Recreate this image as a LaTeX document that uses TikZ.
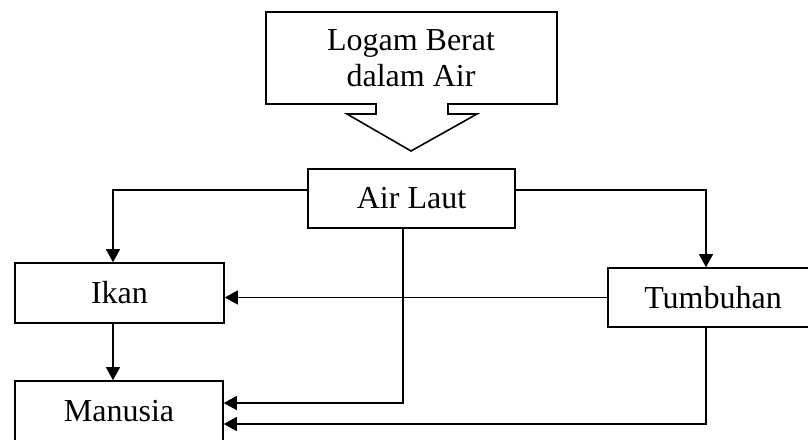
\documentclass[tikz,border=0pt]{standalone}
\usepackage{fontspec}
\setmainfont{Liberation Serif}
\usetikzlibrary{positioning,calc,arrows.meta}
\tikzset{
box/.style={draw=black,line width=1.6pt,minimum width=208pt,minimum height=59pt,inner sep=0pt,font=\fontsize{32}{36}\selectfont,align=center},
label/.style={inner sep=0pt,font=\fontsize{32}{36}\selectfont,align=center},
callout/.style={draw=black,line width=1.6pt,line join=miter},
conn/.style={draw=black,line width=1.1pt},
flow/.style={conn,-{Triangle[length=13pt,width=14pt]}}
}

\begin{document}
\begin{tikzpicture}[x=1pt,y=-1pt]
\clip (0,0) rectangle (808,439);
% source
\draw[callout] (266,12) -- (557,12) -- (557,104) -- (448,104) -- (448,114) -- (477,114)
  -- (411,151) -- (347,114) -- (376,114) -- (376,104) -- (266,104) -- cycle;
\node[label] (logam) at (411,58) {Logam Berat\\dalam Air};
% boxes
\node[box,minimum width=207pt] (airlaut) at (411.5,198.5) {Air Laut};
\node[box,minimum width=209pt,minimum height=60pt] (ikan) at (119.5,293) {Ikan};
\node[box,minimum height=60pt] (manusia) at (119,411) {Manusia};
\node[box,minimum width=210pt] (tumbuhan) at (713,297.5) {Tumbuhan};
% links
\draw[flow] ($(airlaut.west)+(0,-8.5)$) -| ($(ikan.north)+(-6.5,0)$);
\draw[flow] ($(airlaut.east)+(0,-8.5)$) -| ($(tumbuhan.north)+(-7,0)$);
\draw[flow] (tumbuhan.west) -- (tumbuhan.west -| ikan.east);
\draw[flow] ($(ikan.south)+(-6.5,0)$) -- ($(manusia.north)+(-6,0)$);
\draw[flow] ($(airlaut.south)+(-8.5,0)$) |- ($(manusia.east)+(0,-8)$);
\draw[flow] ($(tumbuhan.south)+(-7,0)$) |- ($(manusia.east)+(0,13)$);
\end{tikzpicture}
\end{document}
